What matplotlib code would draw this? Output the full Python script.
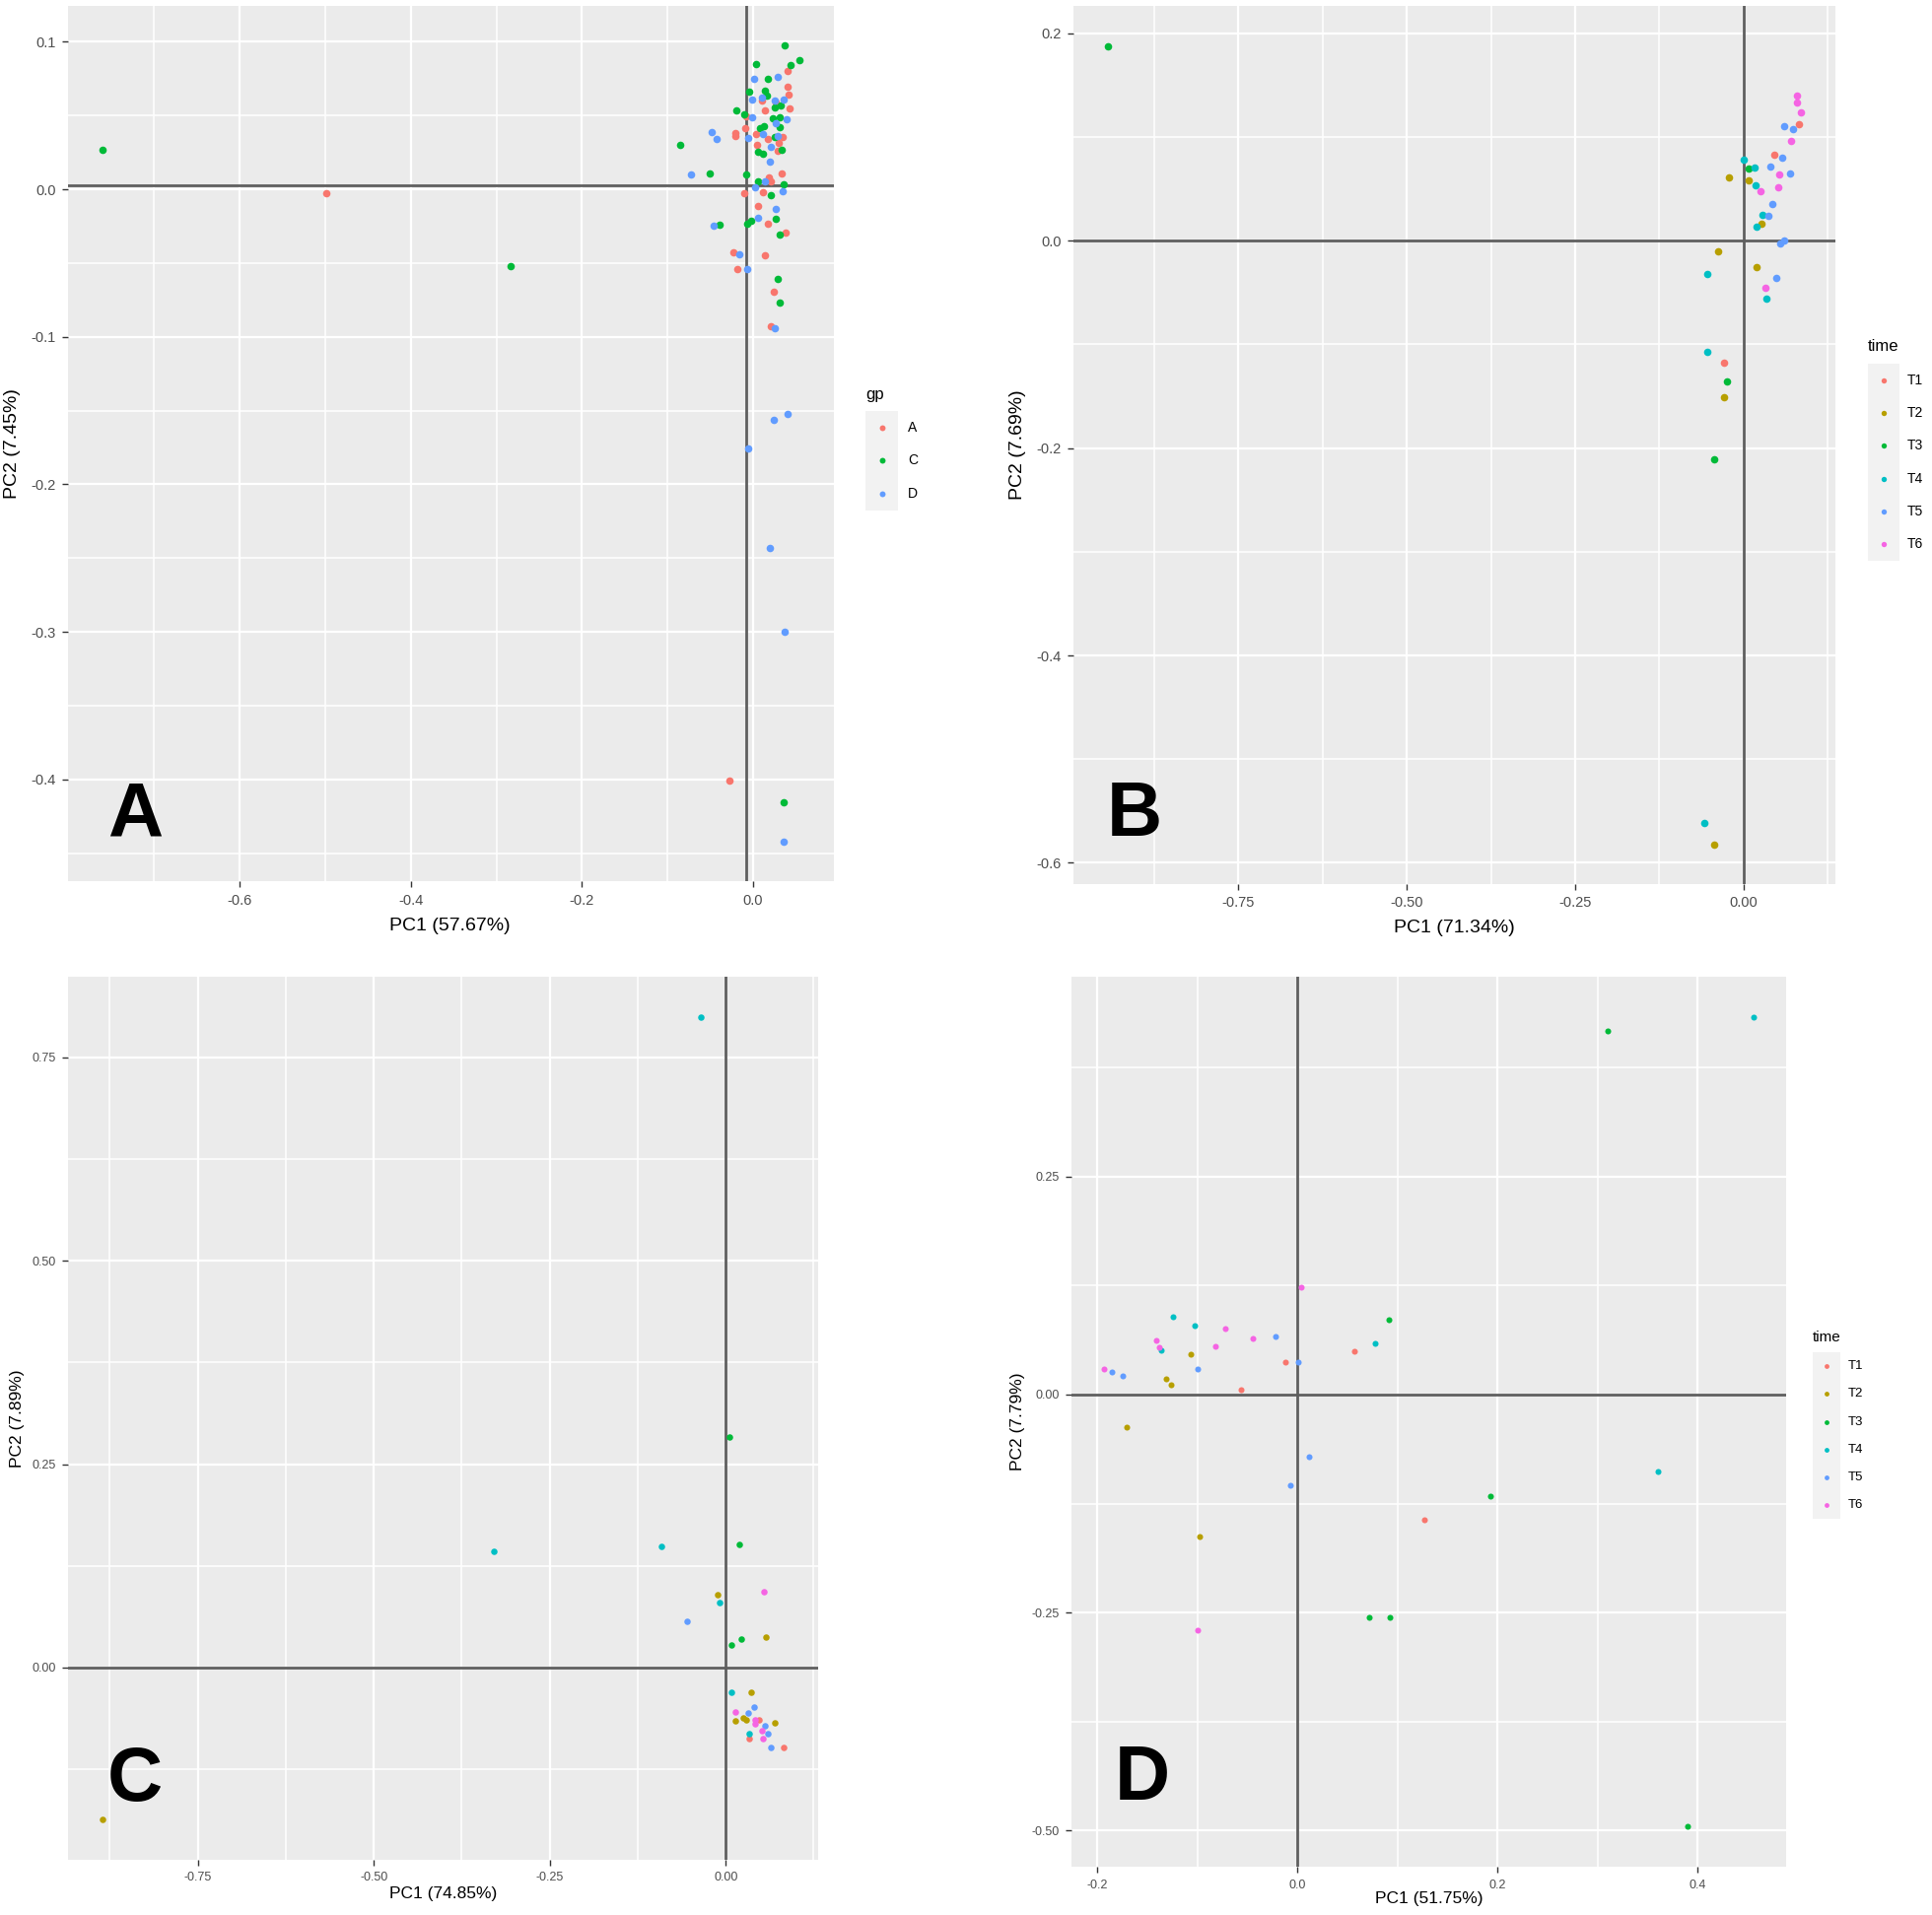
import numpy as np
import matplotlib.pyplot as plt
from matplotlib.patches import Rectangle

plt.rcParams['font.family'] = ['Liberation Sans', 'DejaVu Sans']
plt.rcParams['axes.unicode_minus'] = False

W, H = 1960, 1943

gp_labels = ['A', 'C', 'D']
gp_colors = ['#F8766D', '#00BA38', '#619CFF']
time_labels = ['T1', 'T2', 'T3', 'T4', 'T5', 'T6']
time_colors = ['#F8766D', '#B79F00', '#00BA38', '#00BFC4', '#619CFF', '#F564E3']

# ---- panel A (gp) ----
a_gpA = [(-0.499, -0.0025), (-0.0276, -0.401), (0.0403, 0.080), (0.0403, 0.0696), (0.0411, 0.0644),
         (0.0104, 0.0604), (0.0269, 0.0589), (0.0422, 0.0551), (0.0134, 0.0533), (-0.0077, 0.0493),
         (-0.0096, 0.0411), (-0.0203, 0.0384), (-0.0203, 0.0362), (0.0038, 0.0371), (0.0173, 0.034),
         (0.0345, 0.0356), (0.0295, 0.0311), (0.005, 0.030), (0.0288, 0.026), (0.0338, 0.0107),
         (0.0184, 0.0082), (0.0211, 0.0056), (-0.0104, -0.0027), (0.0115, -0.0022), (0.0058, -0.0111),
         (0.0173, -0.0233), (0.0376, -0.0293), (-0.023, -0.0429), (0.0134, -0.0449), (-0.018, -0.0544),
         (0.0238, -0.0696), (0.0203, -0.093)]
a_gpC = [(-0.760, 0.027), (-0.283, -0.052), (0.0353, -0.4155), (0.0365, 0.0973), (0.0537, 0.0878),
         (0.0434, 0.0844), (0.0038, 0.0849), (0.0173, 0.0749), (-0.0046, 0.066), (0.0134, 0.0667),
         (0.0165, 0.0633), (-0.0192, 0.0533), (-0.0104, 0.0511), (0.025, 0.0556), (0.0326, 0.0567),
         (0.023, 0.0478), (0.0307, 0.0489), (0.0077, 0.0411), (0.0127, 0.0429), (0.0307, 0.0422),
         (0.025, 0.0356), (-0.0852, 0.030), (0.0058, 0.0251), (0.0115, 0.024), (0.0334, 0.0267),
         (-0.0507, 0.0107), (-0.0077, 0.010), (0.0058, 0.0051), (0.0357, 0.0033), (0.0211, -0.0038),
         (0.0269, -0.020), (-0.0391, -0.024), (-0.0065, -0.0233), (-0.0019, -0.0211), (0.0307, -0.0304),
         (0.0288, -0.0611), (0.0307, -0.0767)]
a_gpD = [(0.0012, 0.0749), (0.0288, 0.076), (0.0104, 0.0622), (-0.0008, 0.0607), (0.0257, 0.0604),
         (0.0357, 0.0607), (-0.0008, 0.0489), (0.0395, 0.0473), (0.0269, 0.0449), (-0.048, 0.0389),
         (-0.0422, 0.034), (-0.0058, 0.0349), (0.0115, 0.0371), (0.0288, 0.0362), (0.0211, 0.0284),
         (0.0192, 0.0184), (-0.0721, 0.010), (0.0134, 0.0051), (0.0019, 0.0016), (0.0345, -0.0016),
         (0.0269, -0.0133), (0.0058, -0.0193), (-0.046, -0.0249), (-0.0165, -0.044), (-0.0065, -0.0538),
         (0.0257, -0.0945), (0.0403, -0.1526), (0.0238, -0.1566), (-0.0058, -0.1755), (0.0192, -0.2434),
         (0.0372, -0.30), (0.0353, -0.442)]
a_ref = (-0.008, 0.003)

# ---- panel B (time) ----
b_t1 = [(0.0827, 0.1122), (0.0448, 0.0834), (-0.0292, -0.1179)]
b_t2 = [(-0.0224, 0.0613), (0.0068, 0.0585), (0.0263, 0.0164), (-0.038, -0.0101), (0.0195, -0.0253),
        (-0.0292, -0.1508), (-0.044, -0.582)]
b_t3 = [(-0.943, 0.188), (0.0068, 0.0695), (-0.0253, -0.1359), (-0.044, -0.211)]
b_t4 = [(0.0, 0.0781), (0.0156, 0.0708), (0.017, 0.0531), (0.0277, 0.0247), (0.0195, 0.0133),
        (-0.054, -0.0316), (0.0341, -0.0563), (-0.054, -0.1068), (-0.058, -0.562)]
b_t5 = [(0.0594, 0.1106), (0.0725, 0.1075), (0.0574, 0.080), (0.0389, 0.072), (0.0681, 0.0651),
        (0.0423, 0.0354), (0.0365, 0.0243), (0.0545, -0.0022), (0.0603, 0.0), (0.0487, -0.0357)]
b_t6 = [(0.0788, 0.1397), (0.0788, 0.1334), (0.0847, 0.1242), (0.070, 0.0958), (0.053, 0.0638),
        (0.0511, 0.0515), (0.0243, 0.0474), (0.0316, -0.0452)]

# ---- panel C (time) ----
c_t1 = [(0.0469, -0.0646), (0.0328, -0.0875), (0.0829, -0.0979)]
c_t2 = [(-0.886, -0.187), (-0.0117, 0.0896), (0.0576, 0.0379), (0.0366, -0.030), (0.0131, -0.0654),
        (0.0244, -0.0613), (0.029, -0.0646), (0.0703, -0.0675)]
c_t3 = [(0.005, 0.283), (0.0187, 0.151), (0.0225, 0.0354), (0.0084, 0.0275)]
c_t4 = [(-0.035, 0.80), (-0.330, 0.143), (-0.091, 0.149), (-0.0094, 0.080), (0.0084, -0.030),
        (0.0328, -0.0808)]
c_t5 = [(-0.0553, 0.0563), (0.0408, -0.0488), (0.0319, -0.0563), (0.0562, -0.0717), (0.060, -0.0808),
        (0.0642, -0.0988)]
c_t6 = [(0.0548, 0.093), (0.0141, -0.0542), (0.0422, -0.0646), (0.0412, -0.0696), (0.0515, -0.0771),
        (0.0525, -0.0871)]

# ---- panel D (time) ----
d_t1 = [(0.0565, 0.0498), (-0.0121, 0.0374), (-0.0562, 0.0057), (0.1268, -0.1438)]
d_t2 = [(-0.1065, 0.0457), (-0.1314, 0.0185), (-0.1265, 0.0113), (-0.1709, -0.037), (-0.098, -0.1634)]
d_t3 = [(0.0915, 0.0857), (0.3105, 0.417), (0.39, -0.495), (0.193, -0.116), (0.072, -0.255),
        (0.092, -0.255)]
d_t4 = [(-0.1242, 0.0887), (-0.1026, 0.0789), (-0.1359, 0.0502), (0.0771, 0.0581), (0.456, 0.4326),
        (0.3606, -0.088)]
d_t5 = [(-0.0216, 0.0664), (0.001, 0.0374), (-0.1003, 0.0294), (-0.186, 0.0264), (-0.1752, 0.0208),
        (0.0118, -0.0713), (-0.0075, -0.1042)]
d_t6 = [(0.0033, 0.1226), (-0.0719, 0.0758), (-0.0444, 0.0638), (-0.1408, 0.0623), (-0.1386, 0.0536),
        (-0.0824, 0.0551), (-0.1935, 0.0294), (-0.100, -0.27)]

a_xticks = [-0.6, -0.4, -0.2, 0.0]
a_xlabels = ['-0.6', '-0.4', '-0.2', '0.0']
a_yticks = [-0.4, -0.3, -0.2, -0.1, 0.0, 0.1]
a_ylabels = ['-0.4', '-0.3', '-0.2', '-0.1', '0.0', '0.1']
b_xticks = [-0.75, -0.5, -0.25, 0.0]
b_xlabels = ['-0.75', '-0.50', '-0.25', '0.00']
b_yticks = [-0.6, -0.4, -0.2, 0.0, 0.2]
b_ylabels = ['-0.6', '-0.4', '-0.2', '0.0', '0.2']
c_xticks = [-0.75, -0.5, -0.25, 0.0]
c_xlabels = ['-0.75', '-0.50', '-0.25', '0.00']
c_yticks = [0.0, 0.25, 0.5, 0.75]
c_ylabels = ['0.00', '0.25', '0.50', '0.75']
d_xticks = [-0.2, 0.0, 0.2, 0.4]
d_xlabels = ['-0.2', '0.0', '0.2', '0.4']
d_yticks = [-0.5, -0.25, 0.0, 0.25]
d_ylabels = ['-0.50', '-0.25', '0.00', '0.25']


def px_rect(x0, y0, x1, y1):
    return [x0 / W, 1 - y1 / H, (x1 - x0) / W, (y1 - y0) / H]


def limits(groups, k):
    v = np.concatenate([np.array(g)[:, k] for g in groups])
    r = v.max() - v.min()
    return v.min() - 0.05 * r, v.max() + 0.05 * r


def midpoints(ticks, lim):
    step = ticks[1] - ticks[0]
    m = np.arange(ticks[0] - step / 2, ticks[-1] + step, step)
    return [t for t in m if lim[0] <= t <= lim[1]]


def pca_panel(rect, groups, colors, ref, xt, xl, yt, yl, xlab, ylab,
              xlab_pos, ylab_pos, size, tick_fs, title_fs):
    ax = fig.add_axes(px_rect(*rect))
    ax.set_facecolor('#EBEBEB')
    for s in ax.spines.values():
        s.set_visible(False)
    xlim = limits(groups, 0)
    ylim = limits(groups, 1)
    ax.set_xlim(xlim)
    ax.set_ylim(ylim)
    ax.set_xticks(xt)
    ax.set_xticklabels(xl)
    ax.set_yticks(yt)
    ax.set_yticklabels(yl)
    ax.set_xticks(midpoints(xt, xlim), minor=True)
    ax.set_yticks(midpoints(yt, ylim), minor=True)
    ax.grid(which='major', color='white', lw=1.6)
    ax.grid(which='minor', color='white', lw=1.1)
    ax.set_axisbelow(True)
    ax.tick_params(which='major', length=4, width=1.0, color='#333333',
                   labelcolor='#4D4D4D', labelsize=tick_fs, pad=5)
    ax.tick_params(which='minor', length=0)
    ax.axhline(ref[1], color='#5f5f5f', lw=2.0, zorder=2)
    ax.axvline(ref[0], color='#5f5f5f', lw=2.0, zorder=2)
    for g, c in zip(groups, colors):
        p = np.array(g)
        ax.scatter(p[:, 0], p[:, 1], s=size, color=c, linewidths=0, zorder=3)
    ax.set_xlabel(xlab, fontsize=title_fs)
    ax.set_ylabel(ylab, fontsize=title_fs)
    ax.xaxis.set_label_coords(*xlab_pos)
    ax.xaxis.label.set_verticalalignment('center')
    ax.yaxis.set_label_coords(*ylab_pos)
    ax.yaxis.label.set_verticalalignment('center')
    return ax


fig = plt.figure(figsize=(W / 100, H / 100), dpi=100)

pca_panel((69, 6, 846, 894), [a_gpA, a_gpC, a_gpD], gp_colors, a_ref,
          a_xticks, a_xlabels, a_yticks, a_ylabels, 'PC1 (57.67%)', 'PC2 (7.45%)',
          (0.498, -0.0507), (-0.0727, 0.5), 30, 10.5, 14)
pca_panel((1089, 6, 1862, 897), [b_t1, b_t2, b_t3, b_t4, b_t5, b_t6], time_colors, (0, 0),
          b_xticks, b_xlabels, b_yticks, b_ylabels, 'PC1 (71.34%)', 'PC2 (7.69%)',
          (0.4994, -0.0494), (-0.0731, 0.5), 30, 10.5, 14)
pca_panel((69, 991, 830, 1887), [c_t1, c_t2, c_t3, c_t4, c_t5, c_t6], time_colors, (0, 0),
          c_xticks, c_xlabels, c_yticks, c_ylabels, 'PC1 (74.85%)', 'PC2 (7.89%)',
          (0.5, -0.038), (-0.0677, 0.5), 22, 9, 12.5)
pca_panel((1087, 991, 1812, 1894), [d_t1, d_t2, d_t3, d_t4, d_t5, d_t6], time_colors, (0, 0),
          d_xticks, d_xlabels, d_yticks, d_ylabels, 'PC1 (51.75%)', 'PC2 (7.79%)',
          (0.5, -0.0365), (-0.0752, 0.5), 19, 9, 12.5)

# legends drawn on a transparent overlay in pixel units
lax = fig.add_axes([0, 0, 1, 1])
lax.set_xlim(0, W)
lax.set_ylim(H, 0)
lax.axis('off')


def draw_legend(title, labels, colors, x, y_title, top, key_w, key_h, gap,
                title_fs, label_fs, msize):
    lax.text(x, y_title, title, fontsize=title_fs, ha='left', va='center', color='black')
    lax.add_patch(Rectangle((x, top), key_w, key_h * len(labels), color='#F2F2F2', lw=0))
    for i, (lab, c) in enumerate(zip(labels, colors)):
        cy = top + key_h * (i + 0.5)
        lax.scatter([x + key_w / 2], [cy], s=msize, color=c, linewidths=0)
        lax.text(x + key_w + gap, cy, lab, fontsize=label_fs, ha='left', va='center', color='black')


draw_legend('gp', gp_labels, gp_colors, 878, 400, 417, 33, 33.5, 10, 12, 10, 18)
draw_legend('time', time_labels, time_colors, 1895, 351, 369, 32, 33.3, 8, 12, 10, 15)
draw_legend('time', time_labels, time_colors, 1839, 1357, 1372, 28, 28.2, 8, 11, 9.5, 12)

for letter, (lx, ly) in zip(['A', 'B', 'C', 'D'], [(137, 828), (1151, 828), (137, 1806), (1159, 1806)]):
    fig.text(lx / W, 1 - ly / H, letter, fontsize=56, fontweight='bold', ha='center', va='center')

fig.savefig('out.png', dpi=100, facecolor='white')
